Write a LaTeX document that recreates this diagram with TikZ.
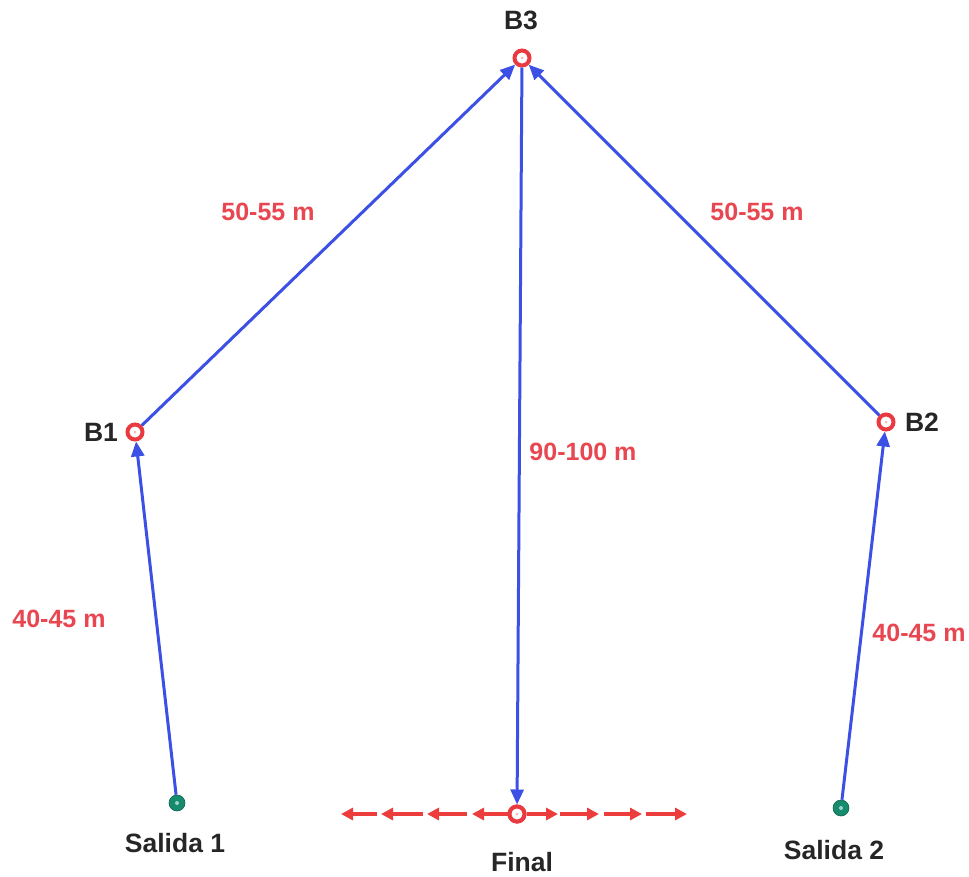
\documentclass[tikz,border=0pt]{standalone}
\usepackage{fontspec}
\setmainfont{Liberation Sans}
\usetikzlibrary{arrows.meta}
\definecolor{ringred}{RGB}{232,58,64}
\definecolor{lblred}{RGB}{232,70,80}
\definecolor{arrblue}{RGB}{60,80,230}
\definecolor{tealc}{RGB}{22,140,110}
\definecolor{dashred}{RGB}{236,60,60}
\tikzset{
  ring/.style={circle,draw=ringred,line width=4pt,fill=white,inner sep=0pt,minimum size=15pt},
  start/.style={circle,fill=tealc,draw=tealc!70!black,line width=0.6pt,inner sep=0pt,minimum size=16pt},
  lbl/.style={font=\fontsize{26.5}{30}\selectfont\bfseries,text=black!85,inner sep=0pt},
  dist/.style={font=\fontsize{25}{28}\selectfont\bfseries,text=lblred,inner sep=0pt},
  conn/.style={draw=arrblue,line width=3pt,-{Triangle[length=15pt,width=13pt]}},
  redarr/.style={draw=dashred,line width=3.4pt,-{Triangle[length=12pt,width=12pt]}}
}
\begin{document}
\begin{tikzpicture}[x=1pt,y=-1pt]
\useasboundingbox (0,0) rectangle (969,876);
% points
\node[ring] (b3) at (522,58) {};
\node[ring] (b1) at (135,432) {};
\node[ring] (b2) at (886,422) {};
\node[ring] (fin) at (517,814) {};
\node[start] (s1) at (177,803) {};
\node[start] (s2) at (841,808) {};
% inner dots
\fill[ringred!35] (b3) circle (1.5pt);
\fill[ringred!35] (b1) circle (1.5pt);
\fill[ringred!35] (b2) circle (1.5pt);
\fill[tealc!40] (s1) circle (2pt);
\fill[tealc!40] (s2) circle (2pt);
% red arrows around Final
\coordinate (l1) at (341,814); \coordinate (l1t) at (377,814);
\coordinate (l2) at (381,814); \coordinate (l2t) at (423,814);
\coordinate (l3) at (427,814); \coordinate (l3t) at (467,814);
\coordinate (l4) at (472,814);
\coordinate (r1) at (558,814);
\coordinate (r2) at (599,814); \coordinate (r2t) at (560,814);
\coordinate (r3) at (642,814); \coordinate (r3t) at (604,814);
\coordinate (r4) at (687,814); \coordinate (r4t) at (646,814);
\draw[redarr] (l1t) -- (l1);
\draw[redarr] (l2t) -- (l2);
\draw[redarr] (l3t) -- (l3);
\draw[redarr] (fin) -- (l4);
\draw[redarr] (fin) -- (r1);
\draw[redarr] (r2t) -- (r2);
\draw[redarr] (r3t) -- (r3);
\draw[redarr] (r4t) -- (r4);
\node[ring] at (fin) {};
\fill[ringred!35] (fin) circle (1.5pt);
% blue connectors
\draw[conn] (s1) -- (b1);
\draw[conn] (b1) -- (b3);
\draw[conn] (b2) -- (b3);
\draw[conn] (b3) -- (fin);
\draw[conn] (s2) -- (b2);
% labels
\node[lbl] (tb3) at (521,20) {B3};
\node[lbl] (tb1) at (101,432) {B1};
\node[lbl] (tb2) at (922,422) {B2};
\node[lbl] (ts1) at (175,843) {Salida 1};
\node[lbl] (tf) at (522,862) {Final};
\node[lbl] (ts2) at (834,850) {Salida 2};
\node[dist] (d1) at (268,212) {50-55 m};
\node[dist] (d2) at (757,212) {50-55 m};
\node[dist] (d3) at (583,452) {90-100 m};
\node[dist] (d4) at (59,619) {40-45 m};
\node[dist] (d5) at (919,633) {40-45 m};
\end{tikzpicture}
\end{document}
